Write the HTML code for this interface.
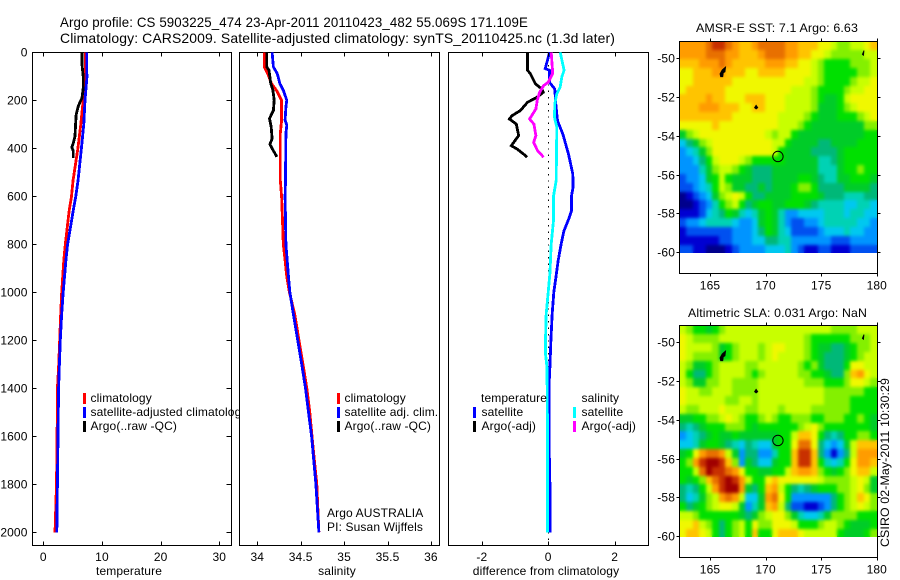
<!DOCTYPE html>
<html>
<head>
<meta charset="utf-8">
<title>Argo profile 5903225_474</title>
<style>
html,body{margin:0;padding:0;background:#fff;}
#stage{display:block;width:900px;height:580px;}
text{font-family:"Liberation Sans",sans-serif;font-size:12px;fill:#000;letter-spacing:0.12px;}
.title{font-size:14px;}
.box{fill:#fff;stroke:#000;stroke-width:1;shape-rendering:crispEdges;}
.frame{fill:none;stroke:#000;stroke-width:1;shape-rendering:crispEdges;}
.tick{stroke:#000;stroke-width:1;shape-rendering:crispEdges;}
.prof{fill:none;stroke-width:2.8;shape-rendering:crispEdges;stroke-linejoin:miter;}
</style>
</head>
<body>
<svg id="stage" xmlns="http://www.w3.org/2000/svg" width="900" height="580" viewBox="0 0 900 580">
  <defs>
    <filter id="mapSmooth" x="0" y="0" width="1" height="1" color-interpolation-filters="sRGB">
      <feGaussianBlur in="SourceGraphic" stdDeviation="1.7" result="soft"/>
      <feMerge>
        <feMergeNode in="SourceGraphic"/>
        <feMergeNode in="soft"/>
      </feMerge>
    </filter>
  </defs>
  <rect x="0" y="0" width="900" height="580" fill="#fff"/>
  <text class="title" x="60" y="27" textLength="468" lengthAdjust="spacingAndGlyphs">Argo profile: CS 5903225_474 23-Apr-2011 20110423_482 55.069S 171.109E</text>
  <text class="title" x="60" y="43" textLength="555" lengthAdjust="spacingAndGlyphs">Climatology: CARS2009. Satellite-adjusted climatology: synTS_20110425.nc (1.3d later)</text>

  <g id="panelT"></g>
  <g id="panelS"></g>
  <g id="panelD"></g>
  <g id="mapSST"></g>
  <g id="mapSLA"></g>

  <text x="696" y="32" textLength="162" lengthAdjust="spacingAndGlyphs">AMSR-E SST: 7.1 Argo: 6.63</text>
  <text x="688" y="317" textLength="179" lengthAdjust="spacingAndGlyphs">Altimetric SLA: 0.031 Argo: NaN</text>
  <text transform="translate(889,547) rotate(-90)" textLength="169" lengthAdjust="spacingAndGlyphs">CSIRO 02-May-2011 10:30:29</text>
</svg>

<script>
// ---------- profile data ----------
const depthTicks = [0,200,400,600,800,1000,1200,1400,1600,1800,2000];
const tempTicks = [0,10,20,30];
const salTicks = [34,34.5,35,35.5,36];
const diffTicks = [-2,0,2];

const tempClimDepth = [0,50,100,150,200,300,400,533,600,662,800,867,1000,1089,1200,1311,1400,1600,1800,2000];
const tempClim =      [7.2,7.2,7.2,7.0,6.8,6.4,5.9,5.08,4.8,4.4,3.75,3.5,3.13,2.97,2.8,2.6,2.4,2.35,2.25,2.0];
const tempSatDepth =  [0,80,100,200,300,400,533,600,662,800,867,1000,1089,1200,1311,1400,1600,1800,2000];
const tempSat =       [7.4,7.4,7.45,7.1,6.9,6.5,5.93,5.54,5.08,4.15,3.86,3.4,3.13,2.9,2.73,2.6,2.5,2.4,2.3];
const tempArgoDepth = [0,50,100,150,190,210,230,260,300,350,380,395,410,440];
const tempArgo =      [6.6,6.6,6.8,6.8,6.6,6.2,5.9,5.6,5.5,5.4,5.1,4.85,5.1,5.1];

const salClimDepth = [0,61,89,131,158,200,283,339,478,533,600,700,800,867,936,1000,1089,1200,1297,1400,1500,1600,1800,2000];
const salClim =      [34.08,34.08,34.12,34.165,34.22,34.28,34.28,34.265,34.265,34.265,34.28,34.29,34.30,34.32,34.34,34.37,34.43,34.48,34.525,34.57,34.605,34.63,34.685,34.71];
const salSatDepth = [0,61,89,131,158,200,228,283,303,339,533,600,700,800,867,936,1000,1089,1200,1297,1400,1500,1600,1800,2000];
const salSat =      [34.17,34.185,34.23,34.26,34.30,34.34,34.33,34.32,34.34,34.33,34.325,34.32,34.325,34.33,34.345,34.36,34.375,34.415,34.465,34.51,34.555,34.59,34.625,34.675,34.71];
const salArgoDepth = [0,61,75,131,158,200,242,276,311,360,383,401,422,436];
const salArgo =      [34.11,34.11,34.135,34.155,34.18,34.195,34.185,34.14,34.16,34.17,34.145,34.17,34.205,34.225];

const diffTSatDepth = [0,33,68,75,125,153,215,285,340,424,507,562,600,662,690,746,800,867,950,1000,1089,1200,1311,1400,1600,1800,2000];
const diffTSat =      [0.04,-0.02,-0.09,0.04,0.04,0.2,0.23,0.28,0.44,0.61,0.74,0.75,0.70,0.70,0.63,0.47,0.39,0.30,0.22,0.17,0.12,0.08,0.05,0.02,0.02,0.05,0.05];
const diffSSatDepth = [0,75,103,145,173,215,271,312,533,600,700,800,922,1000,1089,1200,1256,1311,1400,1600,2000];
const diffSSat =      [0.36,0.48,0.41,0.36,0.26,0.2,0.19,0.26,0.24,0.16,0.16,0.09,0.05,0,-0.06,-0.08,-0.08,-0.04,-0.03,-0.02,-0.02];
const diffTArgoDepth = [0,75,89,131,153,167,188,208,243,264,278,299,347,368,389,403,424,437];
const diffTArgo =      [-0.62,-0.62,-0.54,-0.39,-0.19,-0.15,-0.34,-0.62,-0.84,-1.09,-1.17,-0.96,-0.89,-1.0,-1.11,-0.94,-0.74,-0.64];
const diffSArgoDepth = [0,75,89,125,139,167,201,236,278,299,347,375,410,437];
const diffSArgo =      [0.09,0.13,0.13,0,-0.14,-0.26,-0.33,-0.37,-0.56,-0.43,-0.37,-0.44,-0.32,-0.14];
const zeroLineDepth = [0,2055];

// ---------- map data (colour level per cell, north to south) ----------
const mapLonTicks = [165,170,175,180];
const mapLatTicks = [-50,-52,-54,-56,-58,-60];
const sstLevels = [
[13,13,13,13,14,15,15,14,13,12,12,13,14,14,14,14,13,13,12,12,12,11,11,10,9,9,10,10,11,12],
[13,13,13,13,14,14,14,13,13,12,12,12,13,14,14,14,13,13,12,12,11,11,10,9,9,9,9,9,10,10],
[12,12,12,13,13,13,14,13,12,12,12,12,12,13,13,13,12,12,11,11,10,9,8,8,8,8,9,9,9,10],
[11,11,12,12,12,13,13,12,12,12,11,11,12,12,12,12,11,11,11,11,10,9,8,8,8,8,8,9,9,10],
[11,11,12,12,12,12,12,12,11,11,11,11,11,11,11,11,11,11,11,10,10,9,8,8,8,8,9,10,10,11],
[11,12,12,12,12,12,12,11,11,11,11,11,11,11,11,11,11,10,10,10,9,8,8,8,8,9,10,10,11,11],
[12,12,12,12,13,12,12,11,11,11,12,12,12,11,11,11,10,10,10,10,9,8,7,7,8,10,11,11,11,11],
[12,12,12,13,13,13,12,12,12,11,11,12,12,11,11,11,10,10,10,10,9,7,7,7,8,9,10,11,11,11],
[12,12,12,12,12,12,12,12,11,11,11,11,11,11,11,10,10,10,10,9,8,7,7,7,8,8,8,9,10,11],
[11,11,11,11,11,12,11,11,11,11,11,11,11,11,11,10,10,10,9,8,7,7,7,7,7,7,7,7,9,9],
[7,9,10,11,11,11,11,11,11,11,11,11,11,10,9,10,10,8,7,7,7,7,7,7,7,7,7,7,8,8],
[4,6,7,9,10,11,11,11,11,11,11,11,11,11,10,10,8,7,7,7,7,6,6,7,7,7,7,8,8,8],
[3,4,5,7,9,11,11,11,11,11,11,11,11,11,10,8,7,7,7,7,6,6,6,6,7,8,8,8,8,8],
[3,3,4,6,8,10,11,11,11,10,9,8,8,8,8,8,7,7,7,7,7,5,5,6,7,8,8,8,8,8],
[3,3,3,5,7,9,10,10,9,8,7,6,6,6,7,7,7,7,7,7,7,5,5,5,7,8,8,9,8,8],
[2,3,3,4,7,8,10,8,7,7,7,6,6,6,7,7,7,7,8,8,7,6,5,5,7,7,8,8,8,7],
[2,2,3,4,5,8,10,9,7,7,6,6,7,6,7,7,7,8,9,9,8,6,6,6,6,7,7,7,7,6],
[0,1,2,3,4,7,9,10,11,10,8,6,6,7,7,7,7,8,8,8,8,7,6,6,6,5,5,5,6,6],
[0,0,1,2,3,5,8,9,10,8,6,7,8,8,7,7,8,8,8,7,6,5,5,5,5,4,4,5,5,4],
[1,1,1,2,4,5,6,8,7,5,4,5,7,8,7,5,3,3,4,4,4,4,5,5,5,4,5,5,4,4],
[2,3,3,4,5,5,5,5,4,3,3,4,7,8,7,5,3,2,2,3,3,4,5,5,5,5,5,4,4,3],
[1,2,2,2,2,2,2,2,3,3,3,4,6,8,7,5,4,2,2,2,2,3,4,4,4,5,4,4,3,3],
[1,1,1,1,1,1,2,2,3,3,3,4,4,6,6,5,5,3,3,3,3,3,3,2,2,2,3,3,3,3],
[2,2,1,1,0,0,0,1,2,3,3,3,3,4,4,4,5,3,2,1,1,2,2,1,1,1,2,2,2,2]
];
const slaLevels = [
[10,9,8,8,7,8,9,10,10,10,10,10,10,10,10,10,10,10,10,10,10,10,10,9,9,9,9,10,10,10],
[11,10,9,9,9,9,10,10,10,10,10,10,10,10,10,10,10,10,10,9,8,8,8,8,8,8,9,9,9,10],
[11,10,10,10,10,9,7,8,9,10,10,10,9,10,11,11,10,10,10,9,8,7,7,6,6,7,8,9,9,10],
[11,10,9,9,9,9,7,8,9,10,10,10,9,10,11,10,10,10,10,9,8,7,6,6,6,7,8,9,10,10],
[10,9,7,7,8,9,10,10,10,10,9,9,10,10,10,10,10,10,9,8,9,7,6,6,6,8,11,11,10,10],
[10,8,6,6,8,9,10,10,10,10,9,8,9,10,10,10,10,10,9,9,8,8,7,6,6,9,12,13,11,10],
[10,9,7,7,9,9,10,10,9,9,9,9,10,10,10,10,10,10,10,9,9,9,8,8,8,9,11,11,10,9],
[11,10,10,9,9,10,10,10,9,9,9,9,10,10,10,10,10,10,10,10,10,10,9,9,9,9,9,9,8,8],
[11,10,10,10,10,10,10,9,9,10,10,9,10,10,10,10,10,10,10,10,10,10,9,9,9,9,8,8,8,8],
[10,9,9,10,10,10,11,10,10,10,9,9,10,10,10,9,10,10,10,10,9,9,9,9,9,9,8,8,8,8],
[7,7,8,8,9,9,10,11,10,9,8,8,9,10,9,8,8,9,9,9,8,8,9,9,9,8,8,9,8,7],
[6,5,6,7,8,8,8,9,9,9,8,7,8,8,8,8,8,8,9,10,11,9,8,8,8,8,8,8,8,7],
[3,4,5,6,7,8,7,7,8,7,7,7,7,7,7,8,8,10,12,12,11,8,6,5,6,8,8,9,9,8],
[4,4,5,7,8,8,7,6,5,4,6,5,4,4,7,8,8,11,14,14,11,6,4,3,4,7,10,12,12,12],
[7,8,11,13,14,14,13,10,7,3,6,6,3,3,5,8,8,12,15,15,12,6,3,1,3,6,10,13,13,13],
[8,9,13,15,16,16,15,12,9,3,7,6,4,4,7,8,8,12,15,15,12,8,5,4,5,8,11,13,13,12],
[8,8,10,14,16,15,15,14,13,11,8,8,7,7,8,8,10,12,13,13,12,9,8,7,8,9,11,12,12,10],
[8,7,8,9,12,14,15,16,15,13,10,8,8,11,12,11,11,11,11,11,11,10,9,9,9,9,10,11,10,7],
[6,5,6,8,10,13,15,16,16,13,7,6,8,12,13,10,8,6,5,6,7,8,8,8,9,9,10,11,9,7],
[6,4,5,7,9,10,13,14,13,10,4,4,7,13,14,11,8,3,3,3,3,3,3,6,8,9,10,12,11,9],
[8,6,7,8,9,10,11,11,10,7,3,5,7,12,13,10,6,2,2,1,1,2,3,6,8,9,10,11,10,9],
[10,10,9,8,8,8,8,8,8,7,6,7,9,10,11,11,9,7,5,4,4,5,7,9,9,9,9,8,8,8],
[11,11,12,10,9,8,6,8,9,10,8,11,9,9,11,11,11,10,8,8,8,9,10,10,9,8,7,7,7,8],
[11,12,12,11,10,8,6,8,9,10,8,12,8,8,11,12,12,12,11,10,10,10,10,10,8,7,7,7,8,9]
];
const aucklandLon = [165.9,166.1,166.4,166.35,166.2,166.15,165.95];
const aucklandLat = [-50.8,-50.6,-50.45,-50.7,-50.75,-50.95,-50.95];
const campbellLon = [169.0,169.15,169.3,169.15];
const campbellLat = [-52.55,-52.42,-52.55,-52.62];
const bountyLon = [178.7,178.85,178.8];
const bountyLat = [-49.8,-49.6,-49.85];
const floatLon = 171.109;
const floatLat = -55.069;

// ---------- colour ramp and layout ----------
const colorRamp = ['#00008c','#0000d2','#0050f0','#0094ff','#00c8f0','#00d2b4','#00b878','#00cc28','#00e000','#84f000','#c8ff00','#f0f800','#ffc400','#ff9c00','#e87000','#c83000','#a00000'];
const PT = 52.5, PB = 545.5;
const svg = document.getElementById('stage');
const NS = 'http://www.w3.org/2000/svg';

function yDepth(d){ return 52.3 + d * 0.24; }
function xTemp(v){ return 43.3 + v * 5.867; }
function xSal(v){ return 257.3 + (v - 34) * 86.8; }
function xDiff(v){ return 548.2 + v * 33.2; }

function node(parent, tag, cls){
  const el = document.createElementNS(NS, tag);
  if (cls) el.setAttribute('class', cls);
  parent.appendChild(el);
  return el;
}
function put(el, pairs){
  for (const k in pairs) el.setAttribute(k, pairs[k]);
  return el;
}
function label(parent, str, x, y, anchor){
  const t = node(parent, 'text');
  put(t, {x:x, y:y, 'text-anchor':anchor || 'start'});
  t.textContent = str;
  return t;
}

function drawProfile(parent, name, xFn, depths, values, color){
  const pl = node(parent, 'polyline', 'prof');
  const pts = depths.map((d, i) => xFn(values[i]).toFixed(1) + ',' + yDepth(d).toFixed(1)).join(' ');
  put(pl, {points:pts, stroke:color});
  
  
  return pl;
}

function drawFrameBack(parent, left, right){
  const r = node(parent, 'rect', 'box');
  put(r, {x:left, y:PT, width:right-left, height:PB-PT});
  
  
}

function drawXAxis(parent, ticks, xFn, axisTitle, titleX, titleName){
  ticks.forEach(v => {
    const x = Math.round(xFn(v)) + 0.5;
    const a = node(parent, 'line', 'tick');
    put(a, {x1:x, x2:x, y1:PB, y2:PB-4});
    
    
    const b = node(parent, 'line', 'tick');
    put(b, {x1:x, x2:x, y1:PT, y2:PT+4});
    
    
    const t = label(parent, String(v), xFn(v), 561, 'middle');
    
    
  });
  const tt = label(parent, axisTitle, titleX, 575, 'middle');
  
  
}

function legendEntry(parent, x, y, color, textX, str, name){
  if (color){
    const r = node(parent, 'rect');
    put(r, {x:x, y:y-9, width:3, height:11, fill:color});
    
    
  }
  const t = label(parent, str, textX, y);
  
  
}

// ---------- temperature panel ----------
const gT = document.getElementById('panelT');
drawFrameBack(gT, 32.5, 231.5);
drawProfile(gT, 'temperature-climatology-line', xTemp, tempClimDepth, tempClim, '#ff0000');
drawProfile(gT, 'temperature-satellite-line', xTemp, tempSatDepth, tempSat, '#0000ff');
drawProfile(gT, 'temperature-argo-line', xTemp, tempArgoDepth, tempArgo, '#000000');
depthTicks.forEach(d => {
  const y = Math.round(yDepth(d)) + 0.5;
  const a = node(gT, 'line', 'tick');
  put(a, {x1:32.5, x2:36.5, y1:y, y2:y});
  
  
  const b = node(gT, 'line', 'tick');
  put(b, {x1:231.5, x2:226.5, y1:y, y2:y});
  
  
  const t = label(gT, String(d), 27.5, y + 4, 'end');
  
  
});
drawXAxis(gT, tempTicks, xTemp, 'temperature', 129, 'x-axis-title-temperature');
legendEntry(gT, 83, 402, '#ff0000', 90.5, 'climatology', 'legend-climatology');
legendEntry(gT, 83, 416, '#0000ff', 90.5, 'satellite-adjusted climatology', 'legend-satellite-adjusted');
legendEntry(gT, 83, 430, '#000000', 90.5, 'Argo(..raw -QC)', 'legend-argo');

// ---------- salinity panel ----------
const gS = document.getElementById('panelS');
drawFrameBack(gS, 239.5, 439.5);
drawProfile(gS, 'salinity-climatology-line', xSal, salClimDepth, salClim, '#ff0000');
drawProfile(gS, 'salinity-satellite-line', xSal, salSatDepth, salSat, '#0000ff');
drawProfile(gS, 'salinity-argo-line', xSal, salArgoDepth, salArgo, '#000000');
drawXAxis(gS, salTicks, xSal, 'salinity', 337, 'x-axis-title-salinity');
legendEntry(gS, 337, 402, '#ff0000', 344.5, 'climatology', 'legend-climatology');
legendEntry(gS, 337, 416, '#0000ff', 344.5, 'satellite adj. clim.', 'legend-satellite-adj');
legendEntry(gS, 337, 430, '#000000', 344.5, 'Argo(..raw -QC)', 'legend-argo');
legendEntry(gS, 0, 517, null, 327, 'Argo AUSTRALIA', 'argo-country');
legendEntry(gS, 0, 531, null, 327, 'PI: Susan Wijffels', 'principal-investigator');

// ---------- difference panel ----------
const gD = document.getElementById('panelD');
drawFrameBack(gD, 448.5, 648.5);
const zero = node(gD, 'line');
put(zero, {x1:Math.round(xDiff(0))+0.5, x2:Math.round(xDiff(0))+0.5, y1:yDepth(zeroLineDepth[0]), y2:yDepth(zeroLineDepth[1]), stroke:'#000', 'stroke-width':1, 'stroke-dasharray':'1.4 5', 'shape-rendering':'crispEdges'});


drawProfile(gD, 'difference-temperature-satellite-line', xDiff, diffTSatDepth, diffTSat, '#0000ff');
drawProfile(gD, 'difference-salinity-satellite-line', xDiff, diffSSatDepth, diffSSat, '#00ffff');
drawProfile(gD, 'difference-temperature-argo-line', xDiff, diffTArgoDepth, diffTArgo, '#000000');
drawProfile(gD, 'difference-salinity-argo-line', xDiff, diffSArgoDepth, diffSArgo, '#ff00ff');
drawXAxis(gD, diffTicks, xDiff, 'difference from climatology', 546, 'x-axis-title-difference');
legendEntry(gD, 0, 402, null, 481, 'temperature', 'legend-temperature-heading');
legendEntry(gD, 473, 416, '#0000ff', 481.5, 'satellite', 'legend-temperature-satellite');
legendEntry(gD, 473, 430, '#000000', 481.5, 'Argo(-adj)', 'legend-temperature-argo');
legendEntry(gD, 0, 402, null, 581.5, 'salinity', 'legend-salinity-heading');
legendEntry(gD, 573, 416, '#00ffff', 581.5, 'satellite', 'legend-salinity-satellite');
legendEntry(gD, 573, 430, '#ff00ff', 581.5, 'Argo(-adj)', 'legend-salinity-argo');

// ---------- maps ----------
const MAP_LEFT = 679.5, MAP_RIGHT = 877.5;
const LON0 = 162.25, LON_STEP = 17.75 / 30;
const LAT_STEP = 0.456;

function drawMap(groupId, levels, top, bottom, lat50y, cellName){
  const g = document.getElementById(groupId);
  const lonX = lon => 710 + (lon - 165) * 11.12;
  const latY = lat => lat50y + (-50 - lat) * 19.37;
  const bg = node(g, 'rect');
  put(bg, {x:MAP_LEFT, y:top, width:MAP_RIGHT-MAP_LEFT, height:bottom-top, fill:'#fff'});
  
  
  const latTop = -50 + (lat50y - top) / 19.37;
  const cells = node(g, 'g');
  cells.setAttribute('filter', 'url(#mapSmooth)');
  
  
  levels.forEach((row, j) => {
    row.forEach((lvl, i) => {
      const x0 = Math.round(lonX(LON0 + i * LON_STEP));
      const x1 = Math.round(lonX(LON0 + (i + 1) * LON_STEP));
      const y0 = Math.round(latY(latTop - j * LAT_STEP));
      const y1 = Math.round(latY(latTop - (j + 1) * LAT_STEP));
      const c = node(cells, 'rect');
      put(c, {x:x0, y:y0, width:x1-x0, height:y1-y0, fill:colorRamp[lvl], 'shape-rendering':'crispEdges'});
      
      
    });
  });
  [[aucklandLon, aucklandLat, 'auckland-islands'], [campbellLon, campbellLat, 'campbell-island'], [bountyLon, bountyLat, 'small-island']].forEach(s => {
    const p = node(g, 'polygon');
    put(p, {points:s[0].map((lo, k) => lonX(lo).toFixed(1) + ',' + latY(s[1][k]).toFixed(1)).join(' '), fill:'#000', stroke:'#000', 'stroke-width':0.8});
    
    
  });
  const mark = node(g, 'circle');
  put(mark, {cx:lonX(floatLon), cy:latY(floatLat), r:5.2, fill:'none', stroke:'#000', 'stroke-width':1});
  
  
  const fr = node(g, 'rect', 'frame');
  put(fr, {x:MAP_LEFT, y:top, width:MAP_RIGHT-MAP_LEFT, height:bottom-top});
  
  
  mapLonTicks.forEach(lon => {
    const x = Math.round(lonX(lon)) + 0.5;
    [[top, top-3], [bottom, bottom+3]].forEach(e => {
      const a = node(g, 'line', 'tick');
      put(a, {x1:x, x2:x, y1:e[0], y2:e[1]});
      
      
    });
    const t = label(g, String(lon), lonX(lon), bottom + 16, 'middle');
    
    
  });
  mapLatTicks.forEach(lat => {
    const y = Math.round(latY(lat)) + 0.5;
    [[MAP_LEFT, MAP_LEFT-3], [MAP_RIGHT, MAP_RIGHT+3]].forEach(e => {
      const a = node(g, 'line', 'tick');
      put(a, {x1:e[0], x2:e[1], y1:y, y2:y});
      
      
    });
    const t = label(g, String(lat), 675, y + 4, 'end');
    
    
  });
}
drawMap('mapSST', sstLevels, 41.5, 273.5, 58.3, 'sst-cell');
drawMap('mapSLA', slaLevels, 325.5, 557.5, 342.3, 'sla-cell');
</script>
</body>
</html>
